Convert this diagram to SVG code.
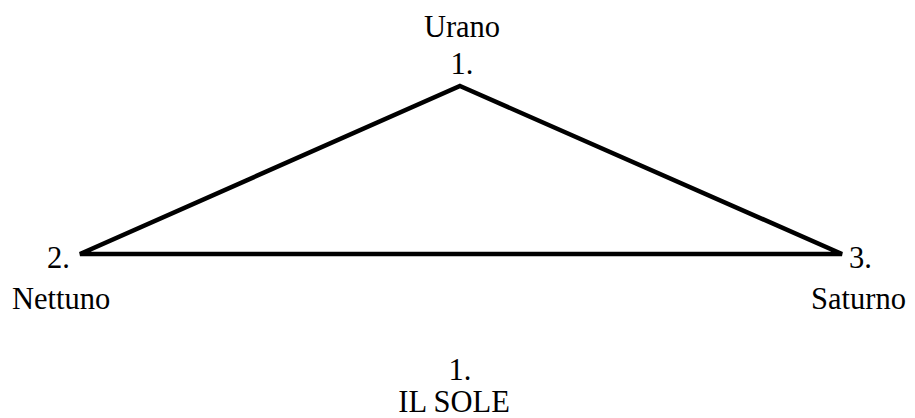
<svg xmlns="http://www.w3.org/2000/svg" width="915" height="418" viewBox="0 0 915 418">
<style>
text{font-family:"Liberation Serif","Times New Roman",serif;font-size:30.5px;fill:#000}
.c{text-anchor:middle}
.edge{stroke:#000;stroke-width:4.5;fill:none;stroke-linejoin:miter}
</style>
<rect width="915" height="418" fill="#fff"/>
<g id="connectors">
<polygon class="edge" points="460,86 842,254 80,254"/>
</g>
<g id="urano"><text class="c" x="462" y="37">Urano</text><text class="c" x="462" y="74">1.</text></g>
<g id="nettuno"><text x="47" y="268">2.</text><text x="12" y="309">Nettuno</text></g>
<g id="saturno"><text x="849" y="268">3.</text><text x="811" y="309">Saturno</text></g>
<g id="sole"><text class="c" x="460" y="380">1.</text><text class="c" x="454" y="412">IL SOLE</text></g>
</svg>
